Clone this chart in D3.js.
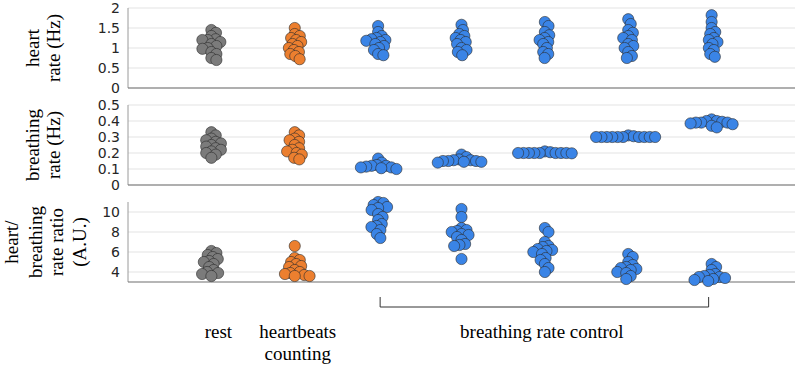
<!DOCTYPE html>
<html>
<head>
<meta charset="UTF-8">
<script src="https://d3js.org/d3.v7.min.js"></script>
</head>
<body style="margin:0">
<svg width="797" height="367"></svg>
<script>
// conditions (x categories) and colour group of each
const conditions = ["rest", "heartbeats counting", "br1", "br2", "br3", "br4", "br5"];
const condColors = ["#7b7b7b", "#ec7f2f", "#3a84e6", "#3a84e6", "#3a84e6", "#3a84e6", "#3a84e6"];

// heart rate (Hz), one array per condition
const heartRate = [
    [1.45, 1.38, 1.3, 1.22, 1.2, 1.2, 1.15, 1.1, 1.05, 1.0, 0.98, 0.9, 0.85, 0.75, 0.7],
    [1.5, 1.35, 1.3, 1.25, 1.2, 1.15, 1.1, 1.05, 1.0, 0.95, 0.9, 0.85, 0.8, 0.72],
    [1.55, 1.4, 1.3, 1.25, 1.22, 1.2, 1.18, 1.15, 1.1, 1.05, 1.0, 0.95, 0.85, 0.82],
    [1.58, 1.45, 1.35, 1.3, 1.25, 1.2, 1.15, 1.1, 1.0, 0.95, 0.9, 0.82],
    [1.65, 1.55, 1.4, 1.32, 1.25, 1.2, 1.15, 1.1, 1.0, 0.9, 0.85, 0.75],
    [1.72, 1.6, 1.45, 1.38, 1.3, 1.25, 1.2, 1.1, 1.05, 1.0, 0.9, 0.8, 0.75],
    [1.82, 1.65, 1.5, 1.4, 1.35, 1.25, 1.2, 1.15, 1.1, 1.0, 0.95, 0.85, 0.78]
];

// breathing rate (Hz)
const breathRate = [
    [0.33, 0.31, 0.29, 0.28, 0.27, 0.26, 0.25, 0.24, 0.23, 0.22, 0.21, 0.2, 0.19, 0.17],
    [0.33, 0.31, 0.29, 0.28, 0.27, 0.25, 0.23, 0.22, 0.21, 0.2, 0.19, 0.17, 0.16],
    [0.165, 0.14, 0.125, 0.12, 0.12, 0.115, 0.11, 0.11, 0.105, 0.1],
    [0.19, 0.175, 0.16, 0.155, 0.155, 0.15, 0.15, 0.15, 0.145, 0.145, 0.14],
    [0.21, 0.205, 0.2, 0.2, 0.2, 0.2, 0.2, 0.2, 0.2, 0.2, 0.198],
    [0.31, 0.305, 0.3, 0.3, 0.3, 0.3, 0.3, 0.3, 0.3, 0.3, 0.3, 0.3],
    [0.41, 0.4, 0.4, 0.395, 0.39, 0.39, 0.39, 0.385, 0.38, 0.37, 0.36]
];

// heart / breathing rate ratio (A.U.)
const rateRatio = [
    [6.1, 5.9, 5.7, 5.5, 5.3, 5.1, 5.0, 4.8, 4.5, 4.2, 4.0, 3.9, 3.8, 3.6],
    [6.6, 5.4, 5.2, 5.0, 4.8, 4.6, 4.5, 4.2, 4.0, 3.9, 3.8, 3.7, 3.6, 3.6],
    [11.0, 10.9, 10.7, 10.5, 10.4, 10.2, 9.8, 9.5, 9.2, 8.8, 8.6, 8.5, 8.2, 7.8, 7.4],
    [10.3, 9.5, 8.4, 8.2, 8.1, 8.0, 7.8, 7.7, 7.5, 7.2, 6.8, 6.7, 6.6, 5.3],
    [8.4, 8.0, 7.0, 6.6, 6.5, 6.3, 6.2, 6.1, 6.0, 5.8, 5.4, 5.2, 4.8, 4.4, 4.0],
    [5.8, 5.5, 5.0, 4.7, 4.5, 4.4, 4.3, 4.2, 4.0, 3.9, 3.6, 3.3],
    [4.8, 4.5, 4.2, 3.8, 3.7, 3.6, 3.5, 3.5, 3.4, 3.3, 3.2, 3.1]
];

const panels = [
    { values: heartRate, domain: [0, 2], ticks: [0, 0.5, 1, 1.5, 2], top: 8, bottom: 88,
      label: ["heart", "rate (Hz)"], labX: [33, 54] },
    { values: breathRate, domain: [0, 0.5], ticks: [0, 0.1, 0.2, 0.3, 0.4, 0.5], top: 105, bottom: 185,
      label: ["breathing", "rate (Hz)"], labX: [33, 54] },
    { values: rateRatio, domain: [3, 11], ticks: [4, 6, 8, 10], top: 202, bottom: 282,
      label: ["heart/", "breathing", "rate ratio", "(A.U.)"], labX: [12, 36, 57, 80] }
];

const svg = d3.select("svg");
const left = 128, right = 795;
const x = d3.scaleLinear().domain([0, 8]).range([left, right]);
const r = 5.6, sep = 5.4;

// simple compressed beeswarm: offsets so that centres stay `sep` apart
function swarm(ys) {
    const order = d3.range(ys.length).sort((a, b) => ys[a] - ys[b]);
    const placed = [], dx = new Array(ys.length).fill(0);
    order.forEach(i => {
        const cands = [0];
        placed.forEach(p => {
            const dy = ys[i] - ys[p];
            if (Math.abs(dy) < sep) {
                const w = Math.sqrt(sep * sep - dy * dy);
                cands.push(dx[p] + w, dx[p] - w);
            }
        });
        cands.sort((a, b) => Math.abs(a) - Math.abs(b) || b - a);
        const ok = cands.find(c => placed.every(p => {
            const ddx = c - dx[p], ddy = ys[i] - ys[p];
            return ddx * ddx + ddy * ddy >= sep * sep - 0.01;
        }));
        dx[i] = ok;
        placed.push(i);
    });
    return dx;
}

// serif label helper
function serifText(sel) {
    return sel.attr("font-size", 19).style("font-family", "Liberation Serif").attr("fill", "#000");
}

panels.forEach(p => {
    const y = d3.scaleLinear().domain(p.domain).range([p.bottom, p.top]);
    const g = svg.append("g");

    // grid
    g.append("g")
        .selectAll("line").data(p.ticks).join("line")
        .attr("x1", left).attr("x2", right)
        .attr("y1", d => y(d)).attr("y2", d => y(d))
        .attr("stroke", "#e3e3e3");

    // axis lines
    g.append("line").attr("x1", left).attr("x2", left)
        .attr("y1", p.top).attr("y2", p.bottom).attr("stroke", "#9a9a9a");
    g.append("line").attr("x1", left).attr("x2", right)
        .attr("y1", p.bottom).attr("y2", p.bottom).attr("stroke", "#6e6e6e").attr("stroke-width", 1.2);

    const ax = g.append("g").attr("transform", `translate(${left - 8},0)`)
        .call(d3.axisLeft(y).tickValues(p.ticks).tickSize(0).tickPadding(0).tickFormat(d3.format("~g")));
    ax.select(".domain").remove();
    ax.selectAll("text")
        .style("font-family", "DejaVu Sans").style("font-size", "14px").style("fill", "#262626");

    // swarm points
    p.values.forEach((vals, ci) => {
        const ys = vals.map(v => y(v));
        const dx = swarm(ys);
        g.append("g").selectAll("circle").data(vals).join("circle")
            .attr("cx", (d, i) => x(ci + 1) + dx[i])
            .attr("cy", d => y(d))
            .attr("r", r)
            .attr("fill", condColors[ci])
            .attr("stroke", "#2b2b2b")
            .attr("stroke-width", 0.6);
    });

    // y label
    const cy = (p.top + p.bottom) / 2;
    p.label.forEach((t, k) => {
        serifText(svg.append("text"))
            .attr("transform", `translate(${p.labX[k] + 6},${cy}) rotate(-90)`)
            .attr("text-anchor", "middle")
            .text(t);
    });
});

// bracket over breathing rate control conditions
const bx0 = x(3) + 2, bx1 = x(7) - 3, by = 307;
svg.append("path")
    .attr("d", `M${bx0},${by - 10}V${by}H${bx1}V${by - 10}`)
    .attr("fill", "none").attr("stroke", "#333").attr("stroke-width", 1);

// condition labels
const bottomLabels = [
    { lines: ["rest"], x: x(1) + 7 },
    { lines: ["heartbeats", "counting"], x: x(2) + 3 },
    { lines: ["breathing rate control"], x: x(5) - 3 }
];
bottomLabels.forEach(b => {
    b.lines.forEach((t, k) => {
        serifText(svg.append("text"))
            .attr("x", b.x).attr("y", 338 + k * 22)
            .attr("text-anchor", "middle")
            .text(t);
    });
});
</script>
</body>
</html>
